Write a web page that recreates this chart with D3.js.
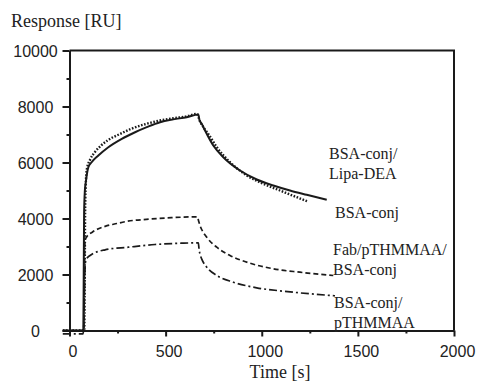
<!DOCTYPE html>
<html>
<head>
<meta charset="utf-8">
<script src="https://cdn.jsdelivr.net/npm/d3@7"></script>
<style>
  html, body { margin: 0; padding: 0; background: #fff; }
  svg { display: block; }
</style>
</head>
<body>
<svg id="chart" width="481" height="382"></svg>
<script>
// Sensorgram: response units over time for four binding experiments.
// Each series is a list of [time (s), response (RU)] pairs.
const lipaDEA = [
  [-35, 0], [72, 0], [74, 2000], [76, 4200], [80, 5000], [86, 5360], [98, 5830],
  [115, 6010], [150, 6250], [202, 6546], [272, 6846], [341, 7080], [402, 7261],
  [471, 7439], [540, 7540], [610, 7618], [670, 7714],
  [676, 7520], [688, 7380], [705, 7143], [748, 6607], [800, 6190], [887, 5714],
  [974, 5393], [1060, 5179], [1147, 5000], [1234, 4846], [1338, 4668]
];
const bsaConj = [
  [-35, 0], [77, 0], [79, 1500], [81, 4000], [84, 5100], [90, 5750], [107, 6100],
  [133, 6380], [160, 6580], [200, 6800], [254, 6990], [320, 7200], [400, 7380],
  [470, 7500], [540, 7580], [610, 7650], [662, 7740],
  [680, 7450], [700, 7230], [722, 7020], [766, 6550], [835, 6010], [922, 5540],
  [1008, 5240], [1095, 5000], [1182, 4760], [1242, 4600]
];
const fabPTHMMAA = [
  [-35, 0], [75, 0], [78, 2000], [80, 3200], [90, 3350], [120, 3520], [185, 3720],
  [246, 3820], [300, 3900], [400, 3970], [530, 4030], [665, 4060],
  [672, 3900], [679, 3750], [714, 3332], [766, 2975], [835, 2679], [939, 2404],
  [1060, 2204], [1199, 2082], [1372, 1964]
];
const pTHMMAA = [
  [-35, -120], [70, -120], [73, 0], [78, 1500], [82, 2400], [89, 2560], [107, 2679],
  [185, 2882], [306, 2975], [445, 3071], [584, 3118], [670, 3132],
  [674, 2900], [680, 2700], [688, 2550], [714, 2261], [766, 1964], [852, 1725],
  [974, 1525], [1112, 1404], [1251, 1311], [1381, 1240]
];

const yMajorTicks = [0, 2000, 4000, 6000, 8000, 10000];
const yMinorTicks = [1000, 3000, 5000, 7000, 9000];
const xMajorTicks = [0, 500, 1000, 1500, 2000];
const xMinorTicks = [250, 750, 1250, 1750];

const labels = [
  { lines: ["BSA-conj/", "Lipa-DEA"], x: 329, y: 159 },
  { lines: ["BSA-conj"], x: 335, y: 218 },
  { lines: ["Fab/pTHMMAA/", "BSA-conj"], x: 333, y: 255 },
  { lines: ["BSA-conj/", "pTHMMAA"], x: 334, y: 308 }
];

const ink = "#1a1a1a";
const textInk = "#222";
const sansFont = "Liberation Sans";
const serifFont = "Liberation Serif";

const svg = d3.select("#chart");

const plotLeft = 69.5, plotRight = 454, plotTop = 50.5, plotBottom = 330.5;
const x = d3.scaleLinear().domain([0, 2000]).range([plotLeft, plotRight]);
const y = d3.scaleLinear().domain([0, 10000]).range([plotBottom, plotTop]);
const fmt = d3.format("d");

// Frame (top and right edges)
svg.append("path")
  .attr("d", `M${plotLeft},${plotTop}H${plotRight}V${plotBottom}`)
  .attr("fill", "none").attr("stroke", ink).attr("stroke-width", 2);

// Y axis: major ticks outward with labels, minor ticks short
const yAxis = svg.append("g").attr("transform", `translate(${plotLeft},0)`)
  .call(d3.axisLeft(y).tickValues(yMajorTicks).tickFormat(fmt).tickSize(7).tickSizeOuter(0).tickPadding(0));
yAxis.attr("font-family", sansFont).attr("font-size", 16);
yAxis.select(".domain").attr("stroke", ink).attr("stroke-width", 2);
yAxis.selectAll(".tick line").attr("stroke", ink).attr("stroke-width", 2);
yAxis.selectAll(".tick text")
  .attr("x", -34).attr("dy", "0.36em")
  .attr("text-anchor", "middle")
  .attr("fill", textInk);

const yMinor = svg.append("g").attr("transform", `translate(${plotLeft},0)`)
  .call(d3.axisLeft(y).tickValues(yMinorTicks).tickSize(3).tickFormat(""));
yMinor.select(".domain").remove();
yMinor.selectAll(".tick line").attr("stroke", ink).attr("stroke-width", 2);

// X axis
const xAxis = svg.append("g").attr("transform", `translate(0,${plotBottom})`)
  .call(d3.axisBottom(x).tickValues(xMajorTicks).tickFormat(fmt).tickSize(6).tickSizeOuter(0).tickPadding(9));
xAxis.attr("font-family", sansFont).attr("font-size", 16);
xAxis.select(".domain").attr("stroke", ink).attr("stroke-width", 2);
xAxis.selectAll(".tick line").attr("stroke", ink).attr("stroke-width", 2);
xAxis.selectAll(".tick text").attr("dx", 3).attr("fill", textInk);

const xMinor = svg.append("g").attr("transform", `translate(0,${plotBottom})`)
  .call(d3.axisBottom(x).tickValues(xMinorTicks).tickSize(3).tickFormat(""));
xMinor.select(".domain").remove();
xMinor.selectAll(".tick line").attr("stroke", ink).attr("stroke-width", 2);

// Series
const line = d3.line().x(d => x(d[0])).y(d => y(d[1])).curve(d3.curveMonotoneX);
const series = [
  { data: lipaDEA, dash: null, width: 2 },
  { data: bsaConj, dash: "1.6,1.6", width: 2.4 },
  { data: fabPTHMMAA, dash: "5,3", width: 1.7 },
  { data: pTHMMAA, dash: "8,3,2,3", width: 1.7 }
];
series.forEach(s => {
  svg.append("path")
    .attr("d", line(s.data))
    .attr("fill", "none")
    .attr("stroke", ink)
    .attr("stroke-width", s.width)
    .attr("stroke-dasharray", s.dash);
});

// Axis titles
svg.append("text").attr("x", 11).attr("y", 27)
  .attr("font-family", serifFont).attr("font-size", 18).attr("fill", textInk)
  .text("Response [RU]");
svg.append("text").attr("x", 280).attr("y", 378).attr("text-anchor", "middle")
  .attr("font-family", serifFont).attr("font-size", 18).attr("fill", textInk)
  .text("Time [s]");

// Series annotations
labels.forEach(l => {
  const t = svg.append("text").attr("x", l.x).attr("y", l.y)
    .attr("font-family", serifFont).attr("font-size", 16).attr("fill", textInk);
  l.lines.forEach((s, i) => {
    t.append("tspan").attr("x", l.x).attr("dy", i === 0 ? 0 : 20).text(s);
  });
});
</script>
</body>
</html>
